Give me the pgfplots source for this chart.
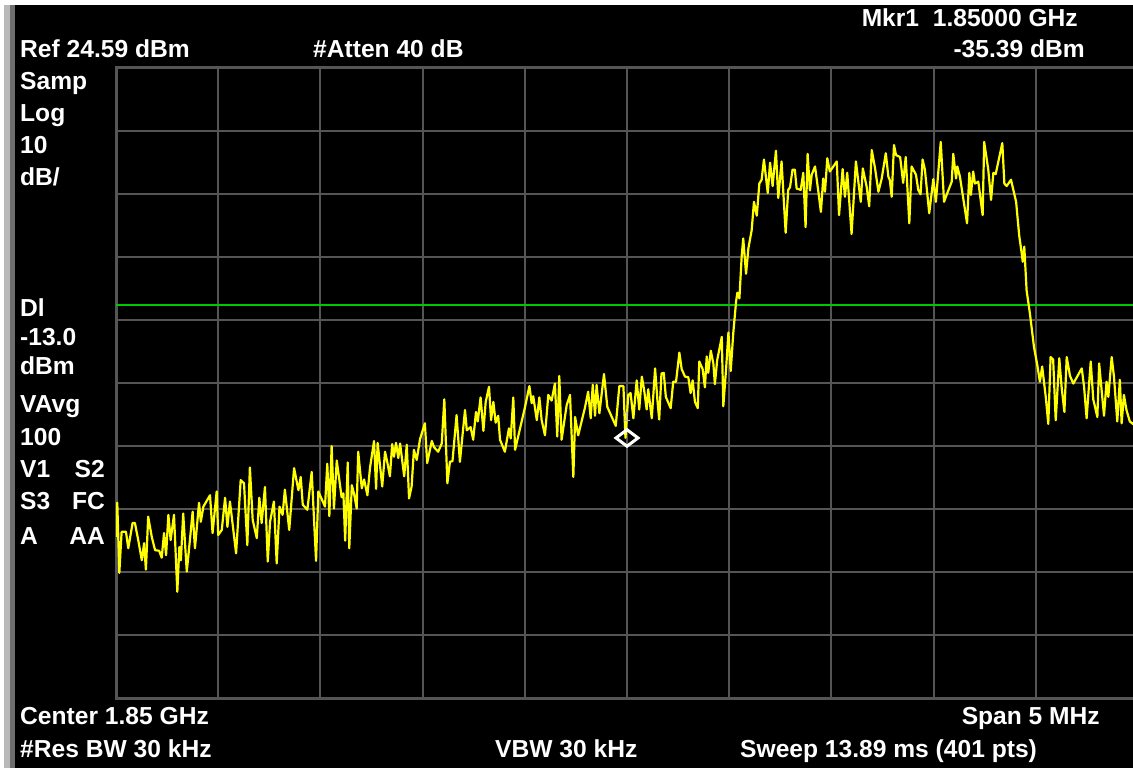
\documentclass[border=0pt]{standalone}
\usepackage{fontspec}
\setmainfont{Liberation Sans}
\usepackage{pgfplots}
\pgfplotsset{compat=1.18}
\definecolor{gridgray}{RGB}{85,85,85}
\definecolor{lgray}{RGB}{185,185,185}
\definecolor{dgray}{RGB}{110,110,110}
\definecolor{trace}{RGB}{255,255,0}
\definecolor{dl}{RGB}{0,200,0}
\begin{document}
\begin{tikzpicture}[x=1pt,y=1pt]
\useasboundingbox (0,0) rectangle (1133,768);
\clip (0,0) rectangle (1133,768);
\fill[white] (0,0) rectangle (1133,768);
\fill[black] (4,0) rectangle (1133,763);
\fill[lgray] (4,0) rectangle (10,763);
\fill[dgray] (10,0) rectangle (15,763);
\begin{axis}[
  at={(116pt,69.5pt)}, anchor=south west,
  scale only axis, width=1022pt, height=631pt,
  xmin=0, xmax=400, ymin=-75.41, ymax=24.59,
  xtick={0,40,...,400},
  ytick={-65.41,-55.41,-45.41,-35.41,-25.41,-15.41,-5.41,4.59,14.59},
  xticklabels={}, yticklabels={},
  major tick length=0pt,
  grid=major,
  grid style={draw=gridgray, line width=2pt},
  axis line style={draw=gridgray, line width=3pt},
  clip=true,
]
\addplot[dl, line width=2pt] coordinates {(0,-13.0) (400,-13.0)};
\addplot[trace, line width=2.2pt, line join=round] coordinates {
(0,-49.8) (0.5,-44.4) (1.3,-55.5) (2.2,-49.0) (3.9,-49.0) (4.8,-51.6) (6.5,-47.6) (7.4,-47.6) (8.7,-50.3) (10.1,-53.5) (11.0,-50.8) (11.7,-55.0) (12.6,-46.6) (14.0,-49.8) (15.3,-51.9) (16.9,-52.0) (17.9,-53.1) (18.8,-49.2) (19.6,-52.7) (20.5,-46.3) (21.4,-50.3) (22.7,-46.3) (24.0,-58.5) (24.8,-51.4) (25.4,-53.5) (26.3,-46.1) (27.7,-55.3) (29.0,-50.0) (30.0,-45.8) (30.9,-51.6) (32.5,-44.4) (33.2,-47.4) (34.2,-45.0) (36.8,-43.2) (37.8,-49.2) (39.4,-42.6) (40.0,-49.5) (41.4,-48.7) (42.7,-43.6) (43.6,-48.2) (44.6,-44.2) (47.0,-52.4) (48.8,-40.8) (50.1,-41.3) (51.4,-51.1) (52.4,-38.8) (53.5,-47.1) (55.1,-50.0) (56.1,-43.6) (57.0,-47.6) (58.3,-41.9) (59.4,-53.7) (60.3,-47.4) (61.8,-44.2) (62.9,-54.0) (64.0,-45.0)
(65.2,-46.3) (66.1,-42.3) (67.8,-48.7) (69.7,-38.9) (71.4,-42.4) (72.3,-40.3) (73.1,-44.7) (74.9,-45.5) (76.6,-39.5) (78.3,-53.6) (79.2,-42.6) (81.8,-45.0) (82.7,-38.2) (83.5,-46.5) (84.4,-35.4) (85.3,-45.3) (86.4,-37.7) (88.3,-43.5) (89.0,-42.9) (89.7,-50.4) (90.7,-38.0) (91.3,-51.6) (92.3,-41.6) (93.2,-43.0) (94.2,-45.3) (94.8,-36.3) (96.2,-42.1) (97.1,-40.7) (98.4,-43.2) (99.4,-38.9) (101.0,-34.6) (101.8,-42.2) (102.4,-34.9) (104.2,-41.8) (105.3,-36.3) (106.2,-38.0) (107.2,-40.2) (108.1,-35.1) (108.8,-37.1) (109.6,-34.9) (110.5,-37.3) (111.2,-35.0) (112.8,-40.2) (113.8,-35.2) (114.7,-43.7) (115.7,-41.8) (116.6,-36.0) (117.7,-37.6) (119.0,-34.3) (120.9,-31.8) (121.8,-38.1) (123.6,-34.6) (124.5,-35.6) (126.1,-36.3) (127.5,-35.0) (128.5,-28.0) (129.7,-41.3) (130.7,-37.9)
(131.7,-37.8) (133.3,-30.5) (134.6,-37.9) (136.6,-29.7) (137.3,-32.9) (138.8,-32.4) (139.8,-34.4) (140.9,-30.0) (141.6,-31.5) (142.7,-27.7) (143.8,-33.0) (144.7,-28.4) (146.0,-26.0) (146.8,-31.3) (147.7,-28.4) (148.6,-31.7) (149.6,-30.6) (150.3,-34.4) (152.2,-36.3) (153.8,-32.6) (154.5,-34.2) (155.5,-27.7) (156.2,-36.0) (160.1,-29.2) (161.8,-25.9) (162.7,-28.6) (163.3,-27.5) (164.7,-31.3) (165.7,-27.7) (166.6,-31.3) (167.9,-33.7) (169.2,-27.3) (170.5,-28.2) (171.8,-25.5) (172.7,-33.9) (173.5,-24.3) (174.4,-34.4) (176.4,-28.9) (177.7,-27.3) (179.0,-40.3) (179.7,-30.8) (180.9,-33.7) (183.5,-29.4) (184.8,-26.8) (185.8,-31.0) (186.6,-25.7) (187.5,-30.6) (188.1,-25.7) (189.2,-30.2) (191.0,-24.0) (192.3,-29.2) (195.6,-32.2) (197.0,-25.9) (198.6,-25.9) (199.4,-34.1)
(200.5,-27.3) (201.4,-27.0) (202.5,-31.0) (203.8,-25.0) (204.8,-29.6) (205.8,-24.4) (206.7,-26.5) (207.7,-29.6) (208.3,-26.4) (209.7,-31.0) (211.0,-23.1) (211.9,-28.1) (212.6,-31.2) (213.5,-23.9) (214.4,-23.8) (215.2,-27.6) (217.1,-29.4) (218.1,-25.2) (219.2,-25.2) (220.5,-20.6) (221.4,-23.2) (222.7,-24.4) (224.0,-24.5) (224.9,-27.0) (225.7,-25.0) (226.6,-28.4) (227.7,-29.4) (228.3,-22.0) (229.6,-23.2) (230.5,-26.1) (231.2,-21.2) (231.8,-23.8) (232.8,-20.3) (233.8,-22.3) (234.4,-25.6) (235.3,-21.8) (237.1,-18.1) (237.7,-29.1) (238.8,-23.1) (239.7,-17.4) (240.6,-23.5) (241.6,-17.5) (242.7,-12.5) (243.2,-11.1) (244.0,-12.0) (244.9,-5.3) (245.5,-2.5) (246.6,-8.1) (247.5,-4.1) (248.8,-1.2) (249.7,3.3) (250.8,1.1) (251.8,6.2) (252.7,6.8) (253.6,10.0) (255.1,4.7) (256.0,9.5) (257.0,5.8) (258.3,11.4) (259.2,3.9) (260.5,9.7) (262.1,-1.6)
(263.1,5.2) (263.8,5.6) (264.8,8.4) (265.7,8.4) (266.4,5.4) (268.0,5.2) (269.0,7.9) (269.9,-0.7) (270.7,10.9) (271.6,5.1) (272.3,7.6) (273.6,8.9) (274.9,4.9) (275.9,1.7) (276.8,7.0) (277.5,4.9) (278.4,10.2) (279.4,8.1) (282.1,9.7) (283.0,1.2) (284.4,8.5) (285.3,4.1) (286.2,7.9) (287.9,-1.8) (289.6,9.7) (291.5,3.3) (292.3,8.6) (293.8,5.7) (294.8,2.6) (295.8,11.5) (297.1,8.6) (298.4,4.9) (299.7,7.0) (301.3,11.0) (302.3,7.3) (302.9,6.7) (303.6,4.1) (304.5,12.3) (305.3,10.7) (306.9,10.4) (308.1,6.3) (309.1,10.4) (310.5,-0.1) (311.4,8.9) (313.1,7.6) (314.0,5.2) (314.9,4.5) (315.7,10.0) (316.6,8.4) (318.3,1.5) (319.9,6.9) (320.9,3.3) (322.8,12.8) (324.1,3.3) (325.1,4.4) (327.1,6.5) (327.7,10.9) (328.8,7.0) (329.3,8.9) (330.3,7.3)
(333.1,-0.1) (334.0,7.9) (334.6,4.4) (335.5,8.1) (336.2,6.2) (337.5,6.5) (339.2,1.2) (339.8,12.8) (341.4,8.4) (342.5,3.6) (343.4,7.9) (344.3,7.7) (346.9,12.6) (347.7,6.2) (348.6,5.8) (350.3,6.8) (352.3,3.3) (353.5,-2.0) (354.5,-4.9) (354.9,-6.2) (355.5,-3.8) (356.4,-10.7) (357.7,-14.4) (359.3,-19.7) (360.6,-22.6) (361.6,-25.2) (362.5,-22.8) (363.9,-27.6) (364.9,-31.9) (365.8,-21.3) (366.8,-21.7) (367.8,-31.3) (369.2,-21.5) (370.1,-26.0) (371.2,-30.0) (372.1,-21.3) (373.4,-24.3) (374.7,-25.5) (376.2,-24.4) (378.0,-23.1) (378.9,-26.0) (379.9,-31.0) (381.5,-22.0) (382.5,-28.0) (384.1,-30.8) (384.8,-22.3) (386.7,-30.6) (387.7,-25.2) (388.4,-27.6) (389.7,-21.3) (390.6,-24.4) (391.9,-31.5) (392.9,-24.9) (393.6,-31.8) (394.5,-27.3) (395.5,-29.7) (396.8,-31.5) (398.0,-31.9) (400,-30.5)
};
\addplot[only marks, mark=diamond, mark size=11pt, mark options={draw=white, fill=none, line width=3pt, yshift=8pt, rotate=90}] coordinates {(200,-35.39)};
\node[text=lgray, font=\fontsize{14}{14}\selectfont, anchor=base, inner sep=0pt] at (axis cs:200,-35.39) [yshift=24pt] {1};
\end{axis}
\tikzset{lab/.style={text=white, inner sep=0pt, font=\fontsize{24.6}{24.6}\selectfont\bfseries}}
% top
\node[lab, anchor=base west] at (20,710) {Ref 24.59 dBm};
\node[lab, anchor=base west] at (313,710) {\#Atten 40 dB};
\node[lab, anchor=base east] at (1078,741) {Mkr1\ \ 1.85000 GHz};
\node[lab, anchor=base east] at (1085,710) {-35.39 dBm};
% left column
\node[lab, anchor=base west] at (20,678) {Samp};
\node[lab, anchor=base west] at (20,646) {Log};
\node[lab, anchor=base west] at (20,614) {10};
\node[lab, anchor=base west] at (20,582) {dB/};
\node[lab, anchor=base west] at (20,451) {Dl};
\node[lab, anchor=base west] at (20,422) {-13.0};
\node[lab, anchor=base west] at (20,393) {dBm};
\node[lab, anchor=base west] at (20,355) {VAvg};
\node[lab, anchor=base west] at (20,322) {100};
\node[lab, anchor=base west] at (20,290) {V1};
\node[lab, anchor=base east] at (105,290) {S2};
\node[lab, anchor=base west] at (20,258) {S3};
\node[lab, anchor=base east] at (105,258) {FC};
\node[lab, anchor=base west] at (20,223) {A};
\node[lab, anchor=base east] at (105,223) {AA};
% bottom
\node[lab, anchor=base west] at (20,43) {Center 1.85 GHz};
\node[lab, anchor=base east] at (1100,43) {Span 5 MHz};
\node[lab, anchor=base west] at (20,10) {\#Res BW 30 kHz};
\node[lab, anchor=base west] at (495,10) {VBW 30 kHz};
\node[lab, anchor=base west] at (740,10) {Sweep 13.89 ms (401 pts)};
\end{tikzpicture}
\end{document}
